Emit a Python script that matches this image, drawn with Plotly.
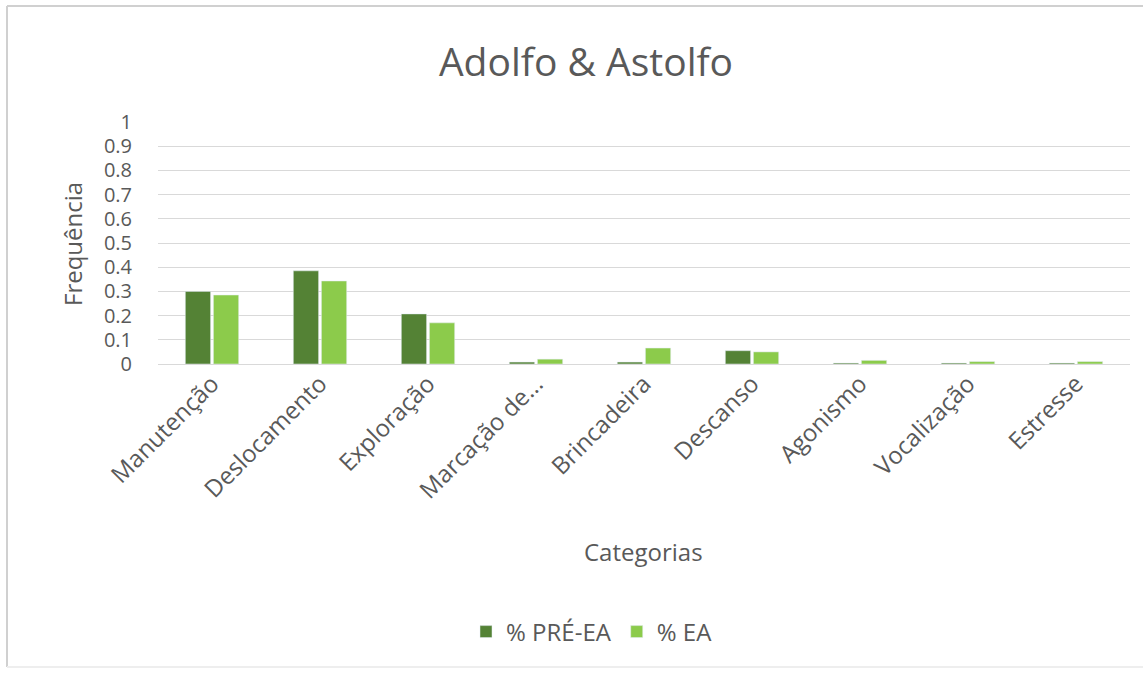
import plotly.graph_objects as go

categories = ["Manutenção", "Deslocamento", "Exploração", "Marcação de...", "Brincadeira",
              "Descanso", "Agonismo", "Vocalização", "Estresse"]
pre_ea = [0.30, 0.385, 0.207, 0.008, 0.008, 0.055, 0.004, 0.004, 0.004]
ea = [0.285, 0.343, 0.17, 0.02, 0.066, 0.05, 0.015, 0.01, 0.01]
y_ticks = [0, 0.1, 0.2, 0.3, 0.4, 0.5, 0.6, 0.7, 0.8, 0.9, 1]
y_tick_text = ["0", "0.1", "0.2", "0.3", "0.4", "0.5", "0.6", "0.7", "0.8", "0.9", "1"]

FONT = "Open Sans"
TXT = "#595959"

fig = go.Figure()
fig.add_trace(go.Bar(x=categories, y=pre_ea, name="% PRÉ-EA", marker_color="#548235"))
fig.add_trace(go.Bar(x=categories, y=ea, name="% EA", marker_color="#8CCB4B"))

W, H = 1143, 675
L, R, T, B = 158, 13, 122, 311
pw = W - L - R
ph = H - T - B

def px_x(x):
    return (x - L) / pw

def px_y(y):
    return (H - B - y) / ph

fig.update_layout(
    width=W, height=H,
    margin=dict(l=L, r=R, t=T, b=B, pad=0),
    paper_bgcolor="white", plot_bgcolor="white",
    font=dict(family=FONT, color=TXT),
    barmode="group", bargap=0.48, bargroupgap=0.1,
    title=dict(text="Adolfo & Astolfo", x=586 / W, xref="container", xanchor="center",
               y=1 - 62 / H, yref="container", yanchor="middle",
               font=dict(size=39, family=FONT, color=TXT)),
    xaxis=dict(tickangle=-45, tickfont=dict(size=24, family=FONT, color=TXT),
               showgrid=False, showline=False, ticks=""),
    yaxis=dict(range=[0, 1], tickvals=y_ticks, ticktext=y_tick_text,
               tickfont=dict(size=20, family=FONT, color=TXT),
               showgrid=True, gridcolor="#d9d9d9", gridwidth=1,
               zeroline=True, zerolinecolor="#d9d9d9", zerolinewidth=1,
               showline=False, ticks="", ticklabelstandoff=25),
    legend=dict(orientation="h", x=592 / W, xref="container", xanchor="center",
                y=1 - 632 / H, yref="container", yanchor="middle",
                font=dict(size=24, family=FONT, color=TXT), itemwidth=30),
    annotations=[
        dict(text="Frequência", xref="paper", yref="paper", x=px_x(72), y=px_y(244),
             xanchor="center", yanchor="middle", textangle=-90, showarrow=False,
             font=dict(size=24, family=FONT, color=TXT)),
        dict(text="Categorias", xref="paper", yref="paper", x=px_x(643), y=px_y(551),
             xanchor="center", yanchor="middle", showarrow=False,
             font=dict(size=24, family=FONT, color=TXT)),
    ],
    shapes=[
        dict(type="line", xref="paper", yref="paper", x0=px_x(7), x1=px_x(1150),
             y0=px_y(6), y1=px_y(6), line=dict(color="#d0d0d0", width=2)),
        dict(type="line", xref="paper", yref="paper", x0=px_x(7), x1=px_x(7),
             y0=px_y(6), y1=px_y(667), line=dict(color="#d0d0d0", width=2)),
        dict(type="line", xref="paper", yref="paper", x0=px_x(7), x1=px_x(1150),
             y0=px_y(667), y1=px_y(667), line=dict(color="#eeeeee", width=2)),
    ],
)

fig.write_html("out.html")
